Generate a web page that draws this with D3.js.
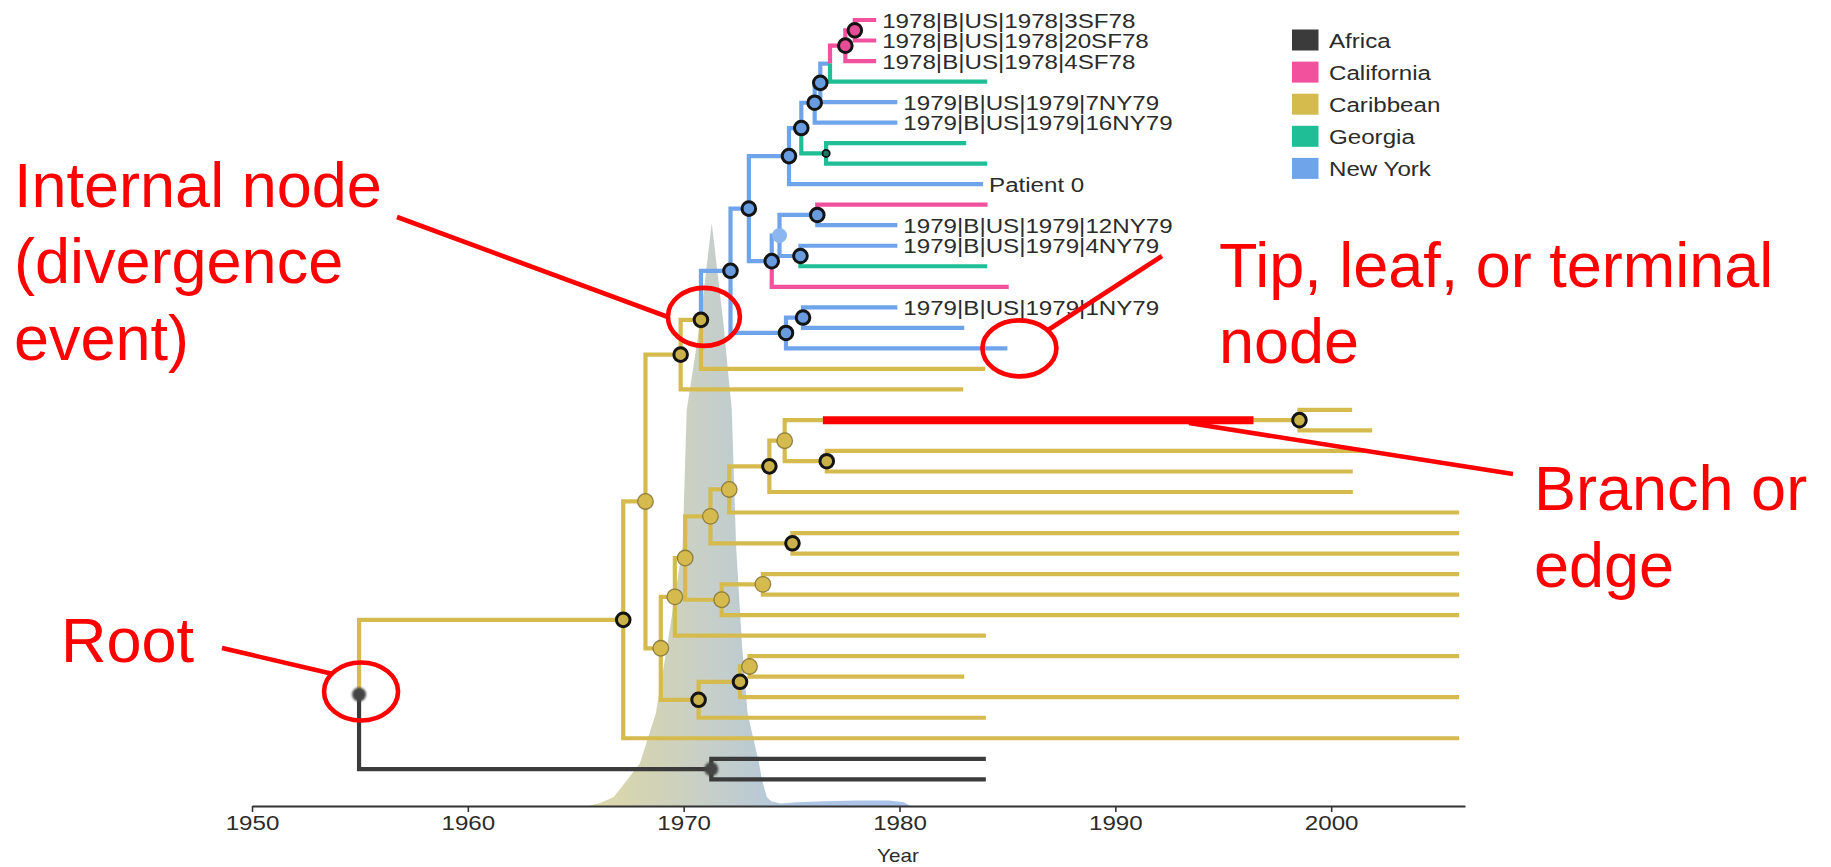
<!DOCTYPE html>
<html>
<head>
<meta charset="utf-8">
<script src="https://cdn.jsdelivr.net/npm/d3@7"></script>
<style>
  body { margin: 0; background: #fff; }
  svg { display: block; font-family: "Liberation Sans", Arial, Helvetica, sans-serif; }
</style>
</head>
<body>
<svg id="chart" width="1831" height="867"></svg>
<script>
// Regions and their colours
const regions = ['Africa', 'California', 'Caribbean', 'Georgia', 'New York'];
const regionColors = ['#3b3b3b', '#f1519d', '#d5bb4e', '#1fbe96', '#6fa4eb'];

// Tree, one row per node: id, parent, date (year), region, node mark, tip label
const nodeIds = ['root','Ncar','Nb','n17','n14','n13','n8','n6','n5','n4','n3','D','n2','n1','t1','t2','t3','t4','t5','t6',
  'n7','t7','t8','t9','n11','n10','n9','t10','t11','n12','t12','t13','t14','n16','n15','t15','t16','t17','t18','t19',
  'Nd','Ne','Ni','Nj','Nm','No','Np','Nr','t20','t21','Nq','t22','t23','t24','t25','Nn','t26','t27','Nk','Nl',
  't28','t29','t30','t31','Nf','Ng','Nh','t32','t33','t34','t35','t36','Nafr','t37','t38'];
const nodeParents = ['','root','Ncar','Nb','n17','n14','n13','n8','n6','n5','n4','n3','D','n2','n1','n1','n2','D','n3','n4',
  'n5','n7','n7','n6','n8','n11','n10','n9','n9','n10','n12','n12','n11','n13','n16','n15','n15','n16','n14','n17',
  'Nb','Nd','Ne','Ni','Nj','Nm','No','Np','Nr','Nr','Np','Nq','Nq','No','Nm','Nj','Nn','Nn','Ni','Nk',
  'Nl','Nl','Nk','Ne','Nd','Nf','Ng','Nh','Nh','Ng','Nf','Ncar','root','Nafr','Nafr'];
const nodeYears = [1954.96,1967.20,1968.23,1969.86,1970.80,1972.17,1973.02,1974.88,1975.45,1976.07,1976.33,1976.78,1977.49,1977.93,1978.92,1978.92,1978.92,1984.06,1979.9,1979.9,
  1976.60,1983.09,1984.06,1983.87,1974.08,1974.44,1976.19,1984.08,1979.9,1975.41,1979.9,1984.06,1985.06,1974.74,1975.53,1979.9,1983.0,1985.0,1983.97,1982.95,
  1968.94,1969.59,1970.07,1971.24,1972.11,1973.97,1974.68,1998.53,2000.97,2001.9,1976.63,2001.7,2001.0,2001.0,2005.93,1975.04,2005.93,2005.93,1971.76,1973.67,
  2005.93,2005.93,2005.93,1984.0,1970.69,1972.61,1973.05,2005.93,1983.0,2005.93,1984.0,2005.93,1971.28,1984.0,1984.0];
const nodeRegions = ['Africa','Caribbean','Caribbean','Caribbean','Caribbean','New York','New York','New York','New York','New York','New York','New York','California','California','California','California','California','Georgia','New York','New York',
  'Georgia','Georgia','Georgia','New York','New York','New York','New York','California','New York','New York','New York','Georgia','California','New York','New York','New York','New York','New York','Caribbean','Caribbean',
  'Caribbean','Caribbean','Caribbean','Caribbean','Caribbean','Caribbean','Caribbean','Caribbean','Caribbean','Caribbean','Caribbean','Caribbean','Caribbean','Caribbean','Caribbean','Caribbean','Caribbean','Caribbean','Caribbean','Caribbean',
  'Caribbean','Caribbean','Caribbean','Caribbean','Caribbean','Caribbean','Caribbean','Caribbean','Caribbean','Caribbean','Caribbean','Caribbean','Africa','Africa','Africa'];
const nodeMarks = ['dim','thick','light','thick','thick','thick','thick','thick','thick','thick','thick','none','thick','thick','','','','','','',
  'dot','','','','thick','pale','thick','','','thick','','','','thick','thick','','','','','',
  'light','light','light','light','light','thick','light','thick','','','thick','','','','','thick','','','light','light',
  '','','','','thick','thick','light','','','','','','dim','',''];
const nodeLabels = {
  t1: '1978|B|US|1978|3SF78', t2: '1978|B|US|1978|20SF78', t3: '1978|B|US|1978|4SF78',
  t5: '1979|B|US|1979|7NY79', t6: '1979|B|US|1979|16NY79', t9: 'Patient 0',
  t11: '1979|B|US|1979|12NY79', t12: '1979|B|US|1979|4NY79', t15: '1979|B|US|1979|1NY79'
};

// Density of node dates behind the tree
const densYears  = [1965.6,1966.13,1966.76,1967.38,1967.98,1968.71,1969.23,1969.95,1970.14,1970.76,1971.3,1971.84,1972.23,1972.43,1972.71,1972.96,1973.49,1973.63,1973.85,1974.05,1974.5,1975.2,1976.5,1978,1979.5,1980.2,1980.5];
const densValues = [0,0.005,0.015,0.043,0.071,0.153,0.263,0.428,0.653,0.797,0.962,0.797,0.653,0.428,0.263,0.153,0.071,0.043,0.015,0.008,0.004,0.006,0.008,0.009,0.009,0.006,0];

const yearTicks = [1950, 1960, 1970, 1980, 1990, 2000];

const svg = d3.select('#chart');
const stretch = 1.15;   // the figure's own text is a little wide

const x = d3.scaleLinear().domain([1950, 2006.2]).range([252, 1465]);
const tipY = d3.scaleLinear().domain([0, 37]).range([20, 779.3]);
const densY = d3.scaleLinear().domain([0, 1]).range([806, 200]);
const color = d3.scaleOrdinal().domain(regions).range(regionColors);

const defs = svg.append('defs');
const grad = defs.append('linearGradient').attr('id', 'densFill')
  .attr('gradientUnits', 'userSpaceOnUse')
  .attr('x1', x(1965.5)).attr('x2', x(1980.5)).attr('y1', 0).attr('y2', 0);
[[0, '#dedaa8'], [0.2, '#d2d3b6'], [0.37, '#c7cfc8'], [0.5, '#bdcbd1'], [0.65, '#afc6e2'], [1, '#a7c2ec']]
  .forEach(s => grad.append('stop').attr('offset', s[0]).attr('stop-color', s[1]));
defs.append('filter').attr('id', 'soft').append('feGaussianBlur').attr('stdDeviation', 1.3);

// density area
svg.append('path')
  .datum(densYears.map((yr, i) => [yr, densValues[i]]))
  .attr('d', d3.area().x(d => x(d[0])).y0(densY(0)).y1(d => densY(d[1])).curve(d3.curveLinear))
  .attr('fill', 'url(#densFill)');

// build the tree
const rows = nodeIds.map((id, i) => ({
  id: id, parent: nodeParents[i], year: nodeYears[i], region: nodeRegions[i], mark: nodeMarks[i]
}));
const root = d3.stratify().id(d => d.id).parentId(d => d.parent)(rows);
root.leaves().forEach((leaf, i) => { leaf.py = tipY(i); });
root.eachAfter(n => { if (n.children) n.py = d3.mean(n.children, c => c.py); });
root.each(n => { n.px = x(n.data.year); });

// axis
const axis = svg.append('g')
  .attr('transform', `translate(0,${densY(0)})`)
  .call(d3.axisBottom(x).tickValues(yearTicks).tickFormat(d3.format('d')).tickSize(6).tickSizeOuter(0));
axis.select('.domain').attr('stroke', '#333').attr('stroke-width', 2.2);
axis.selectAll('.tick line').attr('stroke', '#333').attr('stroke-width', 1.6);
axis.selectAll('.tick text')
  .attr('font-size', 21).attr('fill', '#2b2b2b')
  .attr('font-family', '"Liberation Sans", Arial, sans-serif')
  .attr('transform', `scale(${stretch},1)`);
svg.append('text')
  .attr('transform', `translate(898,862) scale(${stretch},1)`)
  .attr('text-anchor', 'middle').attr('font-size', 18).attr('fill', '#2b2b2b')
  .text('Year');

// branches, each coloured by the child's region
svg.append('g').selectAll('path')
  .data(root.descendants().slice(1))
  .join('path')
  .attr('d', n => `M${n.parent.px},${n.parent.py}V${n.py}H${n.px}`)
  .attr('fill', 'none')
  .attr('stroke', n => color(n.data.region))
  .attr('stroke-width', 4.2)
  .attr('stroke-linejoin', 'miter');

// node marks
const inner = root.descendants().filter(n => n.children);
const gNodes = svg.append('g');
gNodes.selectAll('circle.thick')
  .data(inner.filter(n => n.data.mark === 'thick'))
  .join('circle').attr('class', 'thick')
  .attr('cx', n => n.px).attr('cy', n => n.py).attr('r', 6.8)
  .attr('fill', n => d3.color(color(n.data.region)).darker(0.15))
  .attr('stroke', '#141414').attr('stroke-width', 3);
gNodes.selectAll('circle.light')
  .data(inner.filter(n => n.data.mark === 'light'))
  .join('circle').attr('class', 'light')
  .attr('cx', n => n.px).attr('cy', n => n.py).attr('r', 7.8)
  .attr('fill', n => color(n.data.region))
  .attr('stroke', '#7d6d33').attr('stroke-width', 1.3).attr('stroke-opacity', 0.8);
gNodes.selectAll('circle.pale')
  .data(inner.filter(n => n.data.mark === 'pale'))
  .join('circle').attr('class', 'pale')
  .attr('cx', n => n.px).attr('cy', n => n.py).attr('r', 7.5)
  .attr('fill', '#8bb6ef');
gNodes.selectAll('circle.dot')
  .data(inner.filter(n => n.data.mark === 'dot'))
  .join('circle').attr('class', 'dot')
  .attr('cx', n => n.px).attr('cy', n => n.py).attr('r', 3.6)
  .attr('fill', '#1b7a62').attr('stroke', '#111').attr('stroke-width', 1.8);
gNodes.selectAll('circle.dim')
  .data(inner.filter(n => n.data.mark === 'dim'))
  .join('circle').attr('class', 'dim')
  .attr('cx', n => n.px).attr('cy', n => n.py).attr('r', 7)
  .attr('fill', '#454545').attr('filter', 'url(#soft)');

// tip labels
svg.append('g').selectAll('text')
  .data(root.leaves().filter(n => nodeLabels[n.id]))
  .join('text')
  .attr('transform', n => `translate(${n.px + 6},${n.py}) scale(${stretch},1)`)
  .attr('dy', '0.36em')
  .attr('font-size', 21).attr('fill', '#2b2b2b')
  .text(n => nodeLabels[n.id]);

// legend
const legend = svg.append('g').attr('transform', 'translate(1292,40)');
const item = legend.selectAll('g').data(regions).join('g')
  .attr('transform', (d, i) => `translate(0,${i * 32.1})`);
item.append('rect').attr('x', 0).attr('y', -10.5).attr('width', 26.5).attr('height', 21)
  .attr('fill', d => color(d));
item.append('text')
  .attr('transform', `translate(37,0) scale(${stretch},1)`)
  .attr('dy', '0.36em').attr('font-size', 21).attr('fill', '#2b2b2b')
  .text(d => d);

// annotations
const red = '#ff0000';
const ann = svg.append('g').attr('fill', 'none').attr('stroke', red).attr('stroke-width', 4.6);
const node = id => root.find(n => n.id === id);

// highlighted branch
const nr = node('Nr');
ann.append('line').attr('x1', x(1976.45)).attr('x2', x(1996.4)).attr('y1', nr.py).attr('y2', nr.py)
  .attr('stroke-width', 8);

const rootNode = node('root'), n14 = node('n14'), t17 = node('t17');
ann.append('ellipse').attr('cx', rootNode.px + 2).attr('cy', rootNode.py - 3).attr('rx', 37).attr('ry', 29);
ann.append('ellipse').attr('cx', n14.px + 3).attr('cy', n14.py - 3).attr('rx', 36).attr('ry', 29);
ann.append('ellipse').attr('cx', t17.px + 12).attr('cy', t17.py).attr('rx', 37).attr('ry', 28);

ann.append('line').attr('x1', 397).attr('y1', 217).attr('x2', 668).attr('y2', 317);
ann.append('line').attr('x1', 1162).attr('y1', 256).attr('x2', 1048).attr('y2', 330);
ann.append('line').attr('x1', 1189).attr('y1', 423).attr('x2', 1513).attr('y2', 474);
ann.append('line').attr('x1', 222).attr('y1', 648).attr('x2', 333).attr('y2', 674);

const annText = [
  ['Internal node', 14, 207], ['(divergence', 14, 283], ['event)', 14, 360],
  ['Tip, leaf, or terminal', 1219, 287], ['node', 1219, 363],
  ['Branch or', 1534, 510], ['edge', 1534, 587],
  ['Root', 61, 662]
];
svg.append('g').selectAll('text').data(annText).join('text')
  .attr('x', d => d[1]).attr('y', d => d[2])
  .attr('font-size', 63).attr('fill', red)
  .text(d => d[0]);
</script>
</body>
</html>
